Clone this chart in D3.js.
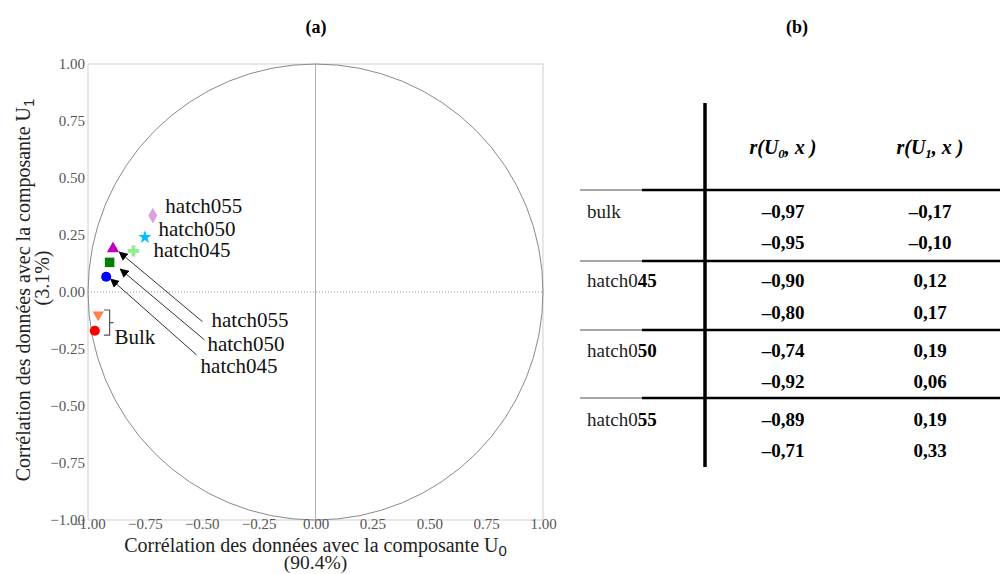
<!DOCTYPE html>
<html><head><meta charset="utf-8">
<script src="https://cdn.jsdelivr.net/npm/d3@7"></script>
<style>
body{margin:0;background:#fff;}
svg{display:block;font-family:"Liberation Serif","Times New Roman",serif;}
</style></head>
<body>
<script>
// ---- data ----
const pointNames  = ["bulk-1","bulk-2","hatch045-1","hatch045-2","hatch050-1","hatch050-2","hatch055-1","hatch055-2"];
const pointU0     = [-0.97, -0.955, -0.905, -0.80, -0.75, -0.92, -0.89, -0.715];
const pointU1     = [-0.17, -0.10, 0.13, 0.18, 0.24, 0.067, 0.19, 0.335];
const pointShapes = ["circle","triangleDown","square","cross","star","circle","triangle","diamond"];
const pointColors = ["#ff0000","#ff7f50","#007f00","#90ee90","#00bfff","#0000ff","#bf00bf","#dda0dd"];

const axisTicks = [-1,-0.75,-0.5,-0.25,0,0.25,0.5,0.75,1];

// annotation labels (data coordinates)
const topLabels   = ["hatch055","hatch050","hatch045"];
const topLabelU0  = [-0.66, -0.69, -0.712];
const topLabelU1  = [0.346, 0.245, 0.153];
const arrowLabels = ["hatch055","hatch050","hatch045"];
const arrowTailU0 = [-0.497, -0.488, -0.523];
const arrowTailU1 = [-0.13, -0.21, -0.276];
const arrowHeadU0 = [-0.862, -0.858, -0.90];
const arrowHeadU1 = [0.175, 0.10, 0.057];
const arrowLabelU0 = [-0.457, -0.475, -0.505];
const arrowLabelU1 = [-0.154, -0.259, -0.355];
const bulkLabel = "Bulk";
const bulkBracketU0 = [-0.93, -0.905, -0.888];
const bulkBracketU1 = [-0.079, -0.189];

// table (b)
const tableGroups = ["bulk","hatch045","hatch050","hatch055"];
const tableU0 = [-0.97,-0.95,-0.90,-0.80,-0.74,-0.92,-0.89,-0.71];
const tableU1 = [-0.17,-0.10,0.12,0.17,0.19,0.06,0.19,0.33];

// ---- drawing ----
const W=1000,H=574;
const svg=d3.select("body").append("svg").attr("width",W).attr("height",H);

const x=d3.scaleLinear().domain([-1,1]).range([88,543]);
const y=d3.scaleLinear().domain([-1,1]).range([520,64]);

// titles
svg.append("text").attr("x",316).attr("y",33).attr("text-anchor","middle")
  .attr("font-weight","bold").attr("font-size",18).text("(a)");
svg.append("text").attr("x",797).attr("y",33).attr("text-anchor","middle")
  .attr("font-weight","bold").attr("font-size",18).text("(b)");

// frame
svg.append("rect").attr("x",x(-1)).attr("y",y(1)).attr("width",x(1)-x(-1)).attr("height",y(-1)-y(1))
  .attr("fill","none").attr("stroke","#cfcfcf").attr("stroke-width",1);

// center lines
svg.append("line").attr("x1",x(0)).attr("x2",x(0)).attr("y1",y(1)).attr("y2",y(-1))
  .attr("stroke","#b0b0b0").attr("stroke-width",1);
svg.append("line").attr("x1",x(-1)).attr("x2",x(1)).attr("y1",y(0)).attr("y2",y(0))
  .attr("stroke","#9a9a9a").attr("stroke-width",1).attr("stroke-dasharray","1,2");

// unit circle
svg.append("ellipse").attr("cx",x(0)).attr("cy",y(0)).attr("rx",x(1)-x(0)).attr("ry",y(0)-y(1))
  .attr("fill","none").attr("stroke","#8a8a8a").attr("stroke-width",1);

// axes
const fmt=d3.format(".2f");
const xAxis=svg.append("g").attr("transform",`translate(0,${y(-1)})`)
  .call(d3.axisBottom(x).tickValues(axisTicks).tickFormat(fmt).tickSize(0).tickPadding(0));
const yAxis=svg.append("g").attr("transform",`translate(${x(-1)},0)`)
  .call(d3.axisLeft(y).tickValues(axisTicks).tickFormat(fmt).tickSize(0).tickPadding(3));
[xAxis,yAxis].forEach(g=>{
  g.select(".domain").remove();
  g.selectAll("text").attr("font-family","Liberation Serif, serif").attr("font-size",15).attr("fill","#555");
});
xAxis.selectAll("text").attr("dy","0.62em");

// axis labels
const xl=svg.append("text").attr("x",x(0)).attr("y",552).attr("text-anchor","middle").attr("font-size",20).attr("fill","#222");
xl.append("tspan").text("Corrélation des données avec la composante U");
xl.append("tspan").attr("font-family","Liberation Sans, sans-serif").attr("font-size",15).attr("dy",4).text("0");
svg.append("text").attr("x",x(0)).attr("y",569).attr("text-anchor","middle").attr("font-size",19.5).attr("fill","#222").text("(90.4%)");

const yl=svg.append("text").attr("transform",`translate(30,${y(0)-2}) rotate(-90)`).attr("text-anchor","middle").attr("font-size",20).attr("fill","#222");
yl.append("tspan").text("Corrélation des données avec la composante U");
yl.append("tspan").attr("font-family","Liberation Sans, sans-serif").attr("font-size",15).attr("dy",4).text("1");
svg.append("text").attr("transform",`translate(49,${y(0)-14}) rotate(-90)`).attr("text-anchor","middle").attr("font-size",20).attr("fill","#222").text("(3.1%)");

// arrows
const defs=svg.append("defs");
defs.append("marker").attr("id","ah").attr("viewBox","0 0 10 10").attr("refX",9).attr("refY",5)
  .attr("markerWidth",9).attr("markerHeight",9).attr("markerUnits","userSpaceOnUse").attr("orient","auto")
  .append("path").attr("d","M0,0L10,5L0,10z").attr("fill","#000");
arrowLabels.forEach((lab,i)=>{
  svg.append("line").attr("x1",x(arrowTailU0[i])).attr("y1",y(arrowTailU1[i]))
    .attr("x2",x(arrowHeadU0[i])).attr("y2",y(arrowHeadU1[i]))
    .attr("stroke","#333").attr("stroke-width",1).attr("marker-end","url(#ah)");
  svg.append("text").attr("x",x(arrowLabelU0[i])).attr("y",y(arrowLabelU1[i])).attr("font-size",21).attr("fill","#111").text(lab);
});
topLabels.forEach((lab,i)=>{
  svg.append("text").attr("x",x(topLabelU0[i])).attr("y",y(topLabelU1[i])).attr("font-size",21).attr("fill","#111").text(lab);
});

// bulk bracket
const bx0=x(bulkBracketU0[0]),bx1=x(bulkBracketU0[1]),bx2=x(bulkBracketU0[2]);
const by0=y(bulkBracketU1[0]),by1=y(bulkBracketU1[1]),bym=(by0+by1)/2;
svg.append("path").attr("d",`M${bx0},${by0}H${bx1}V${by1}H${bx0}M${bx1},${bym}H${bx2}`)
  .attr("fill","none").attr("stroke","#555").attr("stroke-width",1.2);
svg.append("text").attr("x",bx2+1).attr("y",by1+9).attr("font-size",21).attr("fill","#111").text(bulkLabel);

// markers
const symMap={circle:[d3.symbolCircle,80,0],triangleDown:[d3.symbolTriangle,55,180],square:[d3.symbolSquare,90,0],
  cross:[d3.symbolCross,70,0],star:[d3.symbolStar,55,0],triangle:[d3.symbolTriangle,65,0],diamond:[d3.symbolDiamond,70,0]};
pointNames.forEach((n,i)=>{
  const s=symMap[pointShapes[i]];
  svg.append("path").attr("d",d3.symbol().type(s[0]).size(s[1])())
    .attr("transform",`translate(${x(pointU0[i])},${y(pointU1[i])}) rotate(${s[2]})`)
    .attr("fill",pointColors[i]);
});

// ---- table (b) ----
const colX=[783,930];
const rowBase=[218,249,287,319,357,388,426,457];
const groupLines=[190,261,330,398];
const tf=v=>(v<0?"–":"")+d3.format(".2f")(Math.abs(v)).replace(".",",");

svg.append("line").attr("x1",705).attr("x2",705).attr("y1",103).attr("y2",467).attr("stroke","#000").attr("stroke-width",3.5);
groupLines.forEach(gy=>{
  svg.append("line").attr("x1",580).attr("x2",642).attr("y1",gy).attr("y2",gy).attr("stroke","#888").attr("stroke-width",1.5);
  svg.append("line").attr("x1",642).attr("x2",1000).attr("y1",gy).attr("y2",gy).attr("stroke","#000").attr("stroke-width",2.5);
});
// headers
[["0",colX[0]],["1",colX[1]]].forEach(([sub,cx])=>{
  const t=svg.append("text").attr("x",cx).attr("y",154).attr("text-anchor","middle")
    .attr("font-size",20).attr("font-weight","bold").attr("font-style","italic");
  t.append("tspan").text("r(U");
  t.append("tspan").attr("font-size",13).attr("dy",4).text(sub);
  t.append("tspan").attr("dy",-4).text(", x )");
});
tableGroups.forEach((g,i)=>{
  const t=svg.append("text").attr("x",587).attr("y",rowBase[i*2]).attr("font-size",19).attr("fill","#222");
  if(g==="bulk"){t.text(g);}
  else{t.append("tspan").text(g.slice(0,6));t.append("tspan").attr("font-weight","bold").attr("fill","#000").text(g.slice(6));}
});
tableU0.forEach((v,i)=>{
  svg.append("text").attr("x",colX[0]).attr("y",rowBase[i]).attr("text-anchor","middle").attr("font-size",19).attr("font-weight","bold").text(tf(v));
  svg.append("text").attr("x",colX[1]).attr("y",rowBase[i]).attr("text-anchor","middle").attr("font-size",19).attr("font-weight","bold").text(tf(tableU1[i]));
});
</script>
</body></html>
